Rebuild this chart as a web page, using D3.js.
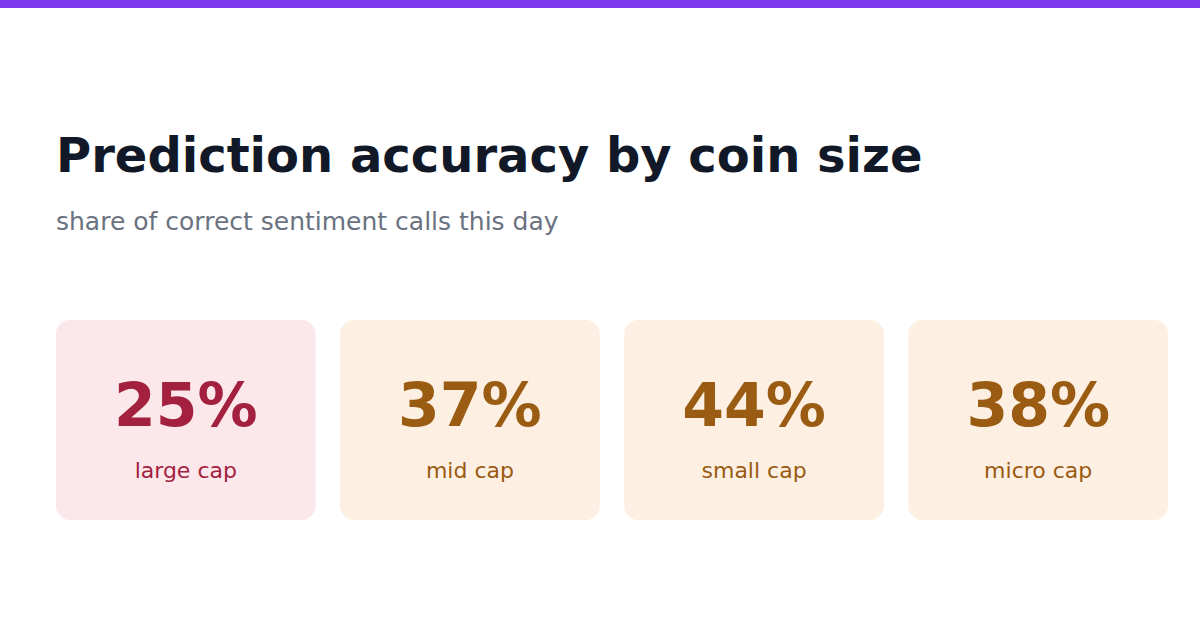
<!DOCTYPE html>
<html><head><meta charset="utf-8">
<script src="https://cdn.jsdelivr.net/npm/d3@7"></script>
<style>body{margin:0;background:#fff;}svg{display:block;font-family:"DejaVu Sans",sans-serif;}</style>
</head><body>
<svg id="chart" width="1200" height="630"></svg>
<script>
// data
var categories = ['large cap','mid cap','small cap','micro cap'];
var accuracy = [25,37,44,38];
var title = 'Prediction accuracy by coin size';
var subtitle = 'share of correct sentiment calls this day';

var svg = d3.select('#chart');
svg.append('rect').attr('x',0).attr('y',0).attr('width',1200).attr('height',8).attr('fill','#7c3aed');
svg.append('text').attr('x',56).attr('y',172).attr('font-size',48).attr('font-weight','bold')
	.attr('fill','#111827').text(title);
svg.append('text').attr('x',56).attr('y',230).attr('font-size',25)
	.attr('fill','#6b7280').text(subtitle);

var x = d3.scaleBand().domain(categories).range([56,1168]).paddingInner(24/278);

// low scores get the red palette, the rest amber
function bg(v){ return v < 30 ? '#fce7ea' : '#fdefe2'; }
function fg(v){ return v < 30 ? '#a3213f' : '#9a5b12'; }

var cards = svg.selectAll('g.card')
	.data(categories.map(function(c,i){ return {cat:c, v:accuracy[i]}; }))
	.enter().append('g').attr('class','card')
	.attr('transform',function(d){ return 'translate('+x(d.cat)+',320)'; });

cards.append('rect').attr('width',x.bandwidth()).attr('height',200).attr('rx',14)
	.attr('fill',function(d){ return bg(d.v); });
cards.append('text').attr('x',x.bandwidth()/2).attr('y',426).attr('transform','translate(0,-320)')
	.attr('text-anchor','middle').attr('font-size',60).attr('font-weight','bold')
	.attr('fill',function(d){ return fg(d.v); })
	.text(function(d){ return d.v+'%'; });
cards.append('text').attr('x',x.bandwidth()/2).attr('y',478).attr('transform','translate(0,-320)')
	.attr('text-anchor','middle').attr('font-size',22)
	.attr('fill',function(d){ return fg(d.v); })
	.text(function(d){ return d.cat; });
</script>
</body></html>
